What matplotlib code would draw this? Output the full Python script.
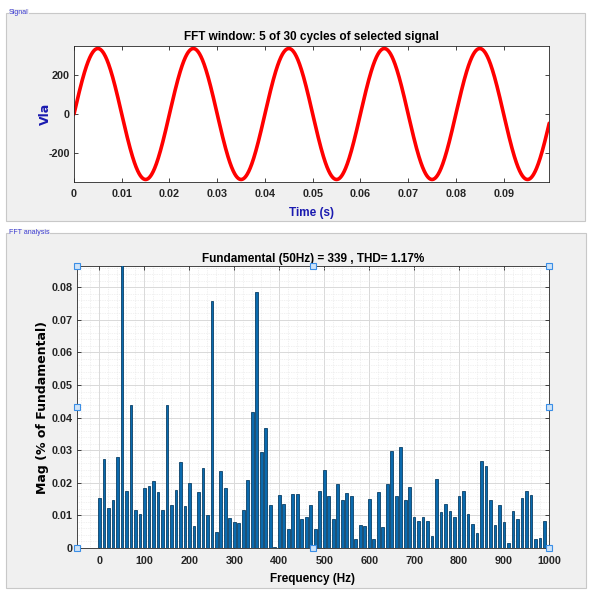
import numpy as np
import matplotlib
matplotlib.use("Agg")
import matplotlib.pyplot as plt
from matplotlib.patches import Rectangle
from matplotlib.ticker import MultipleLocator

plt.rcParams['font.family'] = ['Liberation Sans', 'DejaVu Sans']
plt.rcParams['axes.unicode_minus'] = False

# ---- data ----
fundamental_amp = 339.0       # V peak
fundamental_freq = 50.0       # Hz
window_time = [0.0, 0.1]      # s (5 cycles)
time_ticks = [0, 0.01, 0.02, 0.03, 0.04, 0.05, 0.06, 0.07, 0.08, 0.09]
time_tick_labels = ['0', '0.01', '0.02', '0.03', '0.04', '0.05', '0.06', '0.07', '0.08', '0.09']
volt_ticks = [-200, 0, 200]
volt_tick_labels = ['-200', '0', '200']

harm_freq = np.arange(0, 1000, 10)   # Hz categories
harm_mag = [
    0.0152, 0.0272, 0.0122, 0.0148, 0.0278, 100.0, 0.0175, 0.0440, 0.0116, 0.0105,
    0.0184, 0.0191, 0.0207, 0.0172, 0.0116, 0.0440, 0.0131, 0.0178, 0.0264, 0.0130,
    0.0198, 0.0068, 0.0173, 0.0244, 0.0101, 0.0759, 0.0050, 0.0237, 0.0185, 0.0092,
    0.0081, 0.0076, 0.0118, 0.0210, 0.0417, 0.0785, 0.0293, 0.0367, 0.0132, 0.0004,
    0.0163, 0.0134, 0.0057, 0.0165, 0.0165, 0.0090, 0.0094, 0.0132, 0.0057, 0.0174,
    0.0239, 0.0159, 0.0090, 0.0197, 0.0146, 0.0170, 0.0161, 0.0029, 0.0070, 0.0067,
    0.0149, 0.0029, 0.0172, 0.0065, 0.0195, 0.0298, 0.0158, 0.0310, 0.0148, 0.0187,
    0.0096, 0.0082, 0.0096, 0.0082, 0.0038, 0.0211, 0.0111, 0.0135, 0.0113, 0.0096,
    0.0158, 0.0174, 0.0104, 0.0075, 0.0047, 0.0267, 0.0250, 0.0146, 0.0070, 0.0132,
    0.0079, 0.0014, 0.0113, 0.0088, 0.0152, 0.0174, 0.0164, 0.0029, 0.0032, 0.0082,
]
freq_ticks = [0, 100, 200, 300, 400, 500, 600, 700, 800, 900, 1000]
mag_ticks = [0, 0.01, 0.02, 0.03, 0.04, 0.05, 0.06, 0.07, 0.08]
mag_tick_labels = ['0', '0.01', '0.02', '0.03', '0.04', '0.05', '0.06', '0.07', '0.08']

# ---- figure ----
W, H = 590, 593
fig = plt.figure(figsize=(W / 100, H / 100), dpi=100)
fig.patch.set_facecolor('white')

def fx(px):
    return px / W

def fy(py):
    return 1 - py / H

panel_bg = '#f0f0f0'
# panels
for (x0, y0, x1, y1, label) in [(6, 13, 585, 221, 'Signal'), (6, 233, 586, 588, 'FFT analysis')]:
    fig.patches.append(Rectangle((fx(x0), fy(y1)), fx(x1 - x0), (y1 - y0) / H,
                                 transform=fig.transFigure, facecolor=panel_bg,
                                 edgecolor='#c8c8c8', linewidth=0.8, zorder=-5))
    fig.text(fx(x0 + 3), fy(y0), label, fontsize=5, color='#3a3ad0',
             va='center', ha='left', zorder=-4,
             bbox=dict(facecolor=panel_bg, edgecolor='none', pad=0.3))

bold = dict(fontweight='bold')

# ---- top axes (signal) ----
ax1 = fig.add_axes([fx(74), fy(182), fx(549 - 74), (182 - 46) / H])
t = np.linspace(window_time[0], window_time[1], 2001)
v = fundamental_amp * np.sin(2 * np.pi * fundamental_freq * t)
ax1.plot(t, v, color='#ff0000', linewidth=2.6, solid_capstyle='round')
ax1.set_xlim(0, 0.0995)
ax1.set_ylim(-352, 352)
ax1.set_xticks(time_ticks)
ax1.set_xticklabels(time_tick_labels)
ax1.set_yticks(volt_ticks)
ax1.set_yticklabels(volt_tick_labels)
ax1.tick_params(direction='in', top=True, right=True, length=3, width=0.6,
                labelsize=7.8, pad=5, colors='#262626')
ax1.tick_params(axis='y', pad=3)
for lab in ax1.get_xticklabels() + ax1.get_yticklabels():
    lab.set_fontweight('bold')
for s in ax1.spines.values():
    s.set_color('#262626')
    s.set_linewidth(0.6)
ax1.set_title('FFT window: 5 of 30 cycles of selected signal', fontsize=8.5, pad=4, **bold)
ax1.set_xlabel('Time (s)', fontsize=8.5, color='#1a1ab0', labelpad=6, **bold)
ax1.set_ylabel('Vla', fontsize=9, color='#1a1ab0', family=['DejaVu Sans'], **bold)
ax1.yaxis.set_label_coords(-0.047, 0.5)

# ---- bottom axes (FFT) ----
ax2 = fig.add_axes([fx(77), fy(548), fx(549 - 77), (548 - 266) / H])
ax2.bar(harm_freq, harm_mag, width=6, color='#0a6aae', edgecolor='#0a3f66',
        linewidth=0.6, zorder=3)
ax2.set_xlim(-50, 1000)
ax2.set_ylim(0, 0.0865)
ax2.set_xticks(freq_ticks)
ax2.set_yticks(mag_ticks)
ax2.set_yticklabels(mag_tick_labels)
ax2.xaxis.set_minor_locator(MultipleLocator(20))
ax2.yaxis.set_minor_locator(MultipleLocator(0.002))
ax2.grid(True, which='major', color='#d9d9d9', linewidth=0.7, zorder=0)
ax2.grid(True, which='minor', color='#e4e4e4', linewidth=0.5, linestyle=(0, (1, 1.5)), zorder=0)
ax2.set_axisbelow(True)
ax2.tick_params(which='major', direction='in', top=True, right=True, length=3, width=0.6,
                labelsize=7.8, pad=6, colors='#262626')
ax2.tick_params(axis='y', which='major', pad=3)
ax2.tick_params(which='minor', length=0)
for lab in ax2.get_xticklabels() + ax2.get_yticklabels():
    lab.set_fontweight('bold')
for s in ax2.spines.values():
    s.set_color('#262626')
    s.set_linewidth(0.6)
ax2.set_title('Fundamental (50Hz) = 339 , THD= 1.17%', fontsize=8.5, pad=3, **bold)
ax2.set_xlabel('Frequency (Hz)', fontsize=8.5, labelpad=5, **bold)
ax2.set_ylabel('Mag (% of Fundamental)', fontsize=9, family=['DejaVu Sans'], **bold)
ax2.yaxis.set_label_coords(-0.06, 0.5)

# selection handles (plot edit mode)
hx = [0, 0.5, 1, 0, 1, 0, 0.5, 1]
hy = [1, 1, 1, 0.5, 0.5, 0, 0, 0]
ax2.plot(hx, hy, linestyle='none', marker='s', markersize=4, markerfacecolor='#cfe3f7',
         markeredgecolor='#3a8ee6', markeredgewidth=0.8, transform=ax2.transAxes,
         clip_on=False, zorder=10)

fig.savefig('out.png', dpi=100, facecolor=fig.get_facecolor())
